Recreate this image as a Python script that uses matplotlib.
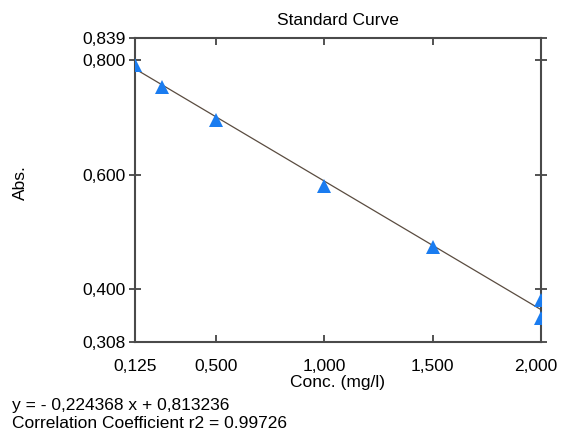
import matplotlib.pyplot as plt
from matplotlib.transforms import ScaledTranslation

plt.rcParams['font.family'] = ['Liberation Sans', 'DejaVu Sans']

# standards: concentration (mg/l) vs absorbance
conc = [0.125, 0.25, 0.5, 1.0, 1.5, 2.0, 2.0]
absorb = [0.792, 0.753, 0.696, 0.580, 0.474, 0.381, 0.350]

slope = -0.224368
intercept = 0.813236
r2 = 0.99726

x_ticks = [0.125, 0.5, 1.0, 1.5, 2.0]
x_labels = ["0,125", "0,500", "1,000", "1,500", "2,000"]
y_ticks = [0.308, 0.4, 0.6, 0.8, 0.839]
y_labels = ["0,308", "0,400", "0,600", "0,800", "0,839"]

fig = plt.figure(figsize=(5.61, 4.33), dpi=100)
ax = fig.add_axes([0.2406, 0.2102, 0.7237, 0.7021])

fit_x = [0.125, 2.0]
fit_y = [slope * v + intercept for v in fit_x]
ax.plot(fit_x, fit_y, color="#5a4c40", linewidth=0.9, zorder=2)
ax.plot(conc, absorb, linestyle="none", marker="^", markersize=10.5,
        color="#1a7cf0", markeredgewidth=0, zorder=3)

ax.set_xlim(0.125, 2.0)
ax.set_ylim(0.308, 0.839)
ax.set_xticks(x_ticks)
ax.set_xticklabels(x_labels)
ax.set_yticks(y_ticks)
ax.set_yticklabels(y_labels)
ax.tick_params(axis="both", direction="in", length=5, width=1.3,
               labelsize=12.5, top=True, right=True, color="#444444")
ax.tick_params(axis="y", direction="inout", length=8, pad=3)
ax.tick_params(axis="x", pad=12)
for s in ax.spines.values():
    s.set_linewidth(1.5)
    s.set_color("#4a4a4a")

# keep the last x label inside the figure
last = ax.get_xticklabels()[-1]
last.set_transform(last.get_transform() + ScaledTranslation(-0.05, 0, fig.dpi_scale_trans))

ax.set_title("Standard Curve", fontsize=12.5, pad=9)
ax.set_xlabel("Conc. (mg/l)", fontsize=12.5, labelpad=1)
fig.text(20 / 561, 1 - 183 / 433, "Abs.", rotation=90, ha="center", va="center",
         fontsize=12.5)

fig.text(0.021, 0.053, "y = - 0,224368 x + 0,813236", fontsize=12.5)
fig.text(0.021, 0.012, "Correlation Coefficient r2 = 0.99726", fontsize=12.5)

fig.savefig("out.png", dpi=100)
